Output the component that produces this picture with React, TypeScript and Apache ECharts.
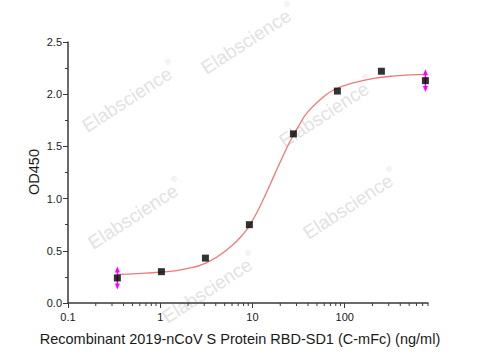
import React, { useEffect, useRef } from 'react';
import * as echarts from 'echarts';

// Measured points (ng/ml vs OD450)
const concentrations = [0.343, 1.03, 3.09, 9.26, 27.8, 83.3, 250, 750];
const od450 = [0.24, 0.30, 0.43, 0.75, 1.62, 2.03, 2.22, 2.13];
// Error bars (magenta arrows) on first and last points
const errorX = [0.343, 750];
const errorY = [0.24, 2.13];
const errorSize = [0.11, 0.11];
// Fitted curve
const curveX = [0.343, 0.562, 1, 1.78, 3.16, 5.62, 7.94, 10, 12.6, 15.8, 20, 25.1, 31.6, 39.8, 56.2, 79.4, 126, 200, 355, 750];
const curveY = [0.275, 0.282, 0.295, 0.323, 0.385, 0.53, 0.66, 0.79, 0.96, 1.15, 1.35, 1.535, 1.695, 1.83, 1.96, 2.05, 2.11, 2.15, 2.175, 2.19];
// Axis labels / ticks
const xMajorLabels = ['0.1', '1', '10', '100'];
const xMinorTicks = [0.2, 0.3, 0.4, 0.5, 0.6, 0.7, 0.8, 0.9, 2, 3, 4, 5, 6, 7, 8, 9, 20, 30, 40, 50, 60, 70, 80, 90, 200, 300, 400, 500, 600, 700, 800];
const yTickLabels = ['0.0', '0.5', '1.0', '1.5', '2.0', '2.5'];
const xTitle = 'Recombinant 2019-nCoV S Protein RBD-SD1 (C-mFc) (ng/ml)';
const yTitle = 'OD450';
const watermarkText = 'Elabscience';
const watermarkCenters = [[131, 97], [250, 39], [137, 214], [328, 112], [352, 204], [211, 288]];

const FONT = '"Liberation Sans", Arial, sans-serif';

export default function App() {
  const ref = useRef<HTMLDivElement>(null);
  useEffect(() => {
    if (!ref.current) return;
    const chart = echarts.init(ref.current, null, { renderer: 'svg' });
    const rot = (33 * Math.PI) / 180;
    const watermarks = watermarkCenters.map(([cx, cy]) => ({
      type: 'group',
      x: cx,
      y: cy,
      rotation: rot,
      z: -10,
      silent: true,
      children: [
        {
          type: 'text',
          x: -56,
          y: 0,
          style: { text: watermarkText, fill: '#e2e2e2', font: '19px ' + FONT, align: 'left', verticalAlign: 'middle' },
        },
        {
          type: 'text',
          x: 47,
          y: -9,
          style: { text: '®', fill: '#e2e2e2', font: '8px ' + FONT, align: 'left', verticalAlign: 'middle' },
        },
      ],
    }));
    const option: any = {
      animation: false,
      backgroundColor: '#ffffff',
      grid: { left: 68, right: 52, top: 42, bottom: 57, containLabel: false },
      graphic: [
        ...watermarks,
        {
          type: 'text',
          x: 240,
          y: 339,
          style: { text: xTitle, fill: '#1a1a1a', font: '14.5px ' + FONT, align: 'center', verticalAlign: 'middle' },
        },
        {
          type: 'text',
          x: 34,
          y: 172,
          rotation: Math.PI / 2,
          style: { text: yTitle, fill: '#1a1a1a', font: '14.5px ' + FONT, align: 'center', verticalAlign: 'middle' },
        },
      ],
      xAxis: {
        type: 'log',
        logBase: 10,
        min: 0.1,
        max: 800,
        axisLine: { show: true, lineStyle: { color: '#3a3a3a', width: 1.5 } },
        axisTick: { show: true, length: 5, lineStyle: { color: '#3a3a3a', width: 1 } },
        splitLine: { show: false },
        axisLabel: {
          color: '#1a1a1a',
          fontSize: 11,
          fontFamily: FONT,
          margin: 8,
          showMaxLabel: false,
          formatter: (v: number) => {
            const l = Math.log10(v);
            const r = Math.round(l);
            if (Math.abs(l - r) > 1e-6) return '';
            return xMajorLabels[r + 1] ?? '';
          },
        },
      },
      yAxis: {
        type: 'value',
        min: 0,
        max: 2.5,
        interval: 0.5,
        axisLine: { show: true, lineStyle: { color: '#3a3a3a', width: 1.5 } },
        axisTick: { show: true, length: 5, lineStyle: { color: '#3a3a3a', width: 1 } },
        minorTick: { show: true, splitNumber: 2, length: 3, lineStyle: { color: '#3a3a3a', width: 1 } },
        splitLine: { show: false },
        axisLabel: {
          color: '#1a1a1a',
          fontSize: 11,
          fontFamily: FONT,
          margin: 6,
          formatter: (v: number) => yTickLabels[Math.round(v / 0.5)] ?? '',
        },
      },
      series: [
        {
          type: 'custom',
          name: 'minorTicks',
          silent: true,
          clip: false,
          z: 1,
          data: xMinorTicks.map((v) => [v, 0]),
          renderItem: (params: any, api: any) => {
            const p = api.coord([api.value(0), 0]);
            return {
              type: 'line',
              shape: { x1: p[0], y1: p[1], x2: p[0], y2: p[1] + 3 },
              style: { stroke: '#3a3a3a', lineWidth: 1 },
            };
          },
        },
        {
          type: 'line',
          name: 'fit',
          data: curveX.map((x, i) => [x, curveY[i]]),
          smooth: 0.5,
          showSymbol: false,
          symbol: 'none',
          lineStyle: { color: '#f27878', width: 1.3 },
          z: 2,
        },
        {
          type: 'custom',
          name: 'errors',
          clip: false,
          z: 3,
          data: errorX.map((x, i) => [x, errorY[i], errorSize[i]]),
          renderItem: (params: any, api: any) => {
            const x = api.value(0);
            const y = api.value(1);
            const e = api.value(2);
            const t = api.coord([x, y + e]);
            const b = api.coord([x, y - e]);
            const c = '#ff00ff';
            return {
              type: 'group',
              children: [
                { type: 'line', shape: { x1: t[0], y1: t[1] + 5, x2: b[0], y2: b[1] - 5 }, style: { stroke: c, lineWidth: 1.5 } },
                { type: 'polygon', shape: { points: [[t[0], t[1]], [t[0] - 2.5, t[1] + 6], [t[0] + 2.5, t[1] + 6]] }, style: { fill: c } },
                { type: 'polygon', shape: { points: [[b[0], b[1]], [b[0] - 2.5, b[1] - 6], [b[0] + 2.5, b[1] - 6]] }, style: { fill: c } },
              ],
            };
          },
        },
        {
          type: 'scatter',
          name: 'data',
          data: concentrations.map((x, i) => [x, od450[i]]),
          symbol: 'rect',
          symbolSize: 7,
          itemStyle: { color: '#000' },
          z: 4,
        },
      ],
    };
    chart.setOption(option);
    return () => chart.dispose();
  }, []);
  return <div ref={ref} style={{ position: 'fixed', left: 0, top: 0, width: 480, height: 360, background: '#fff' }} />;
}
